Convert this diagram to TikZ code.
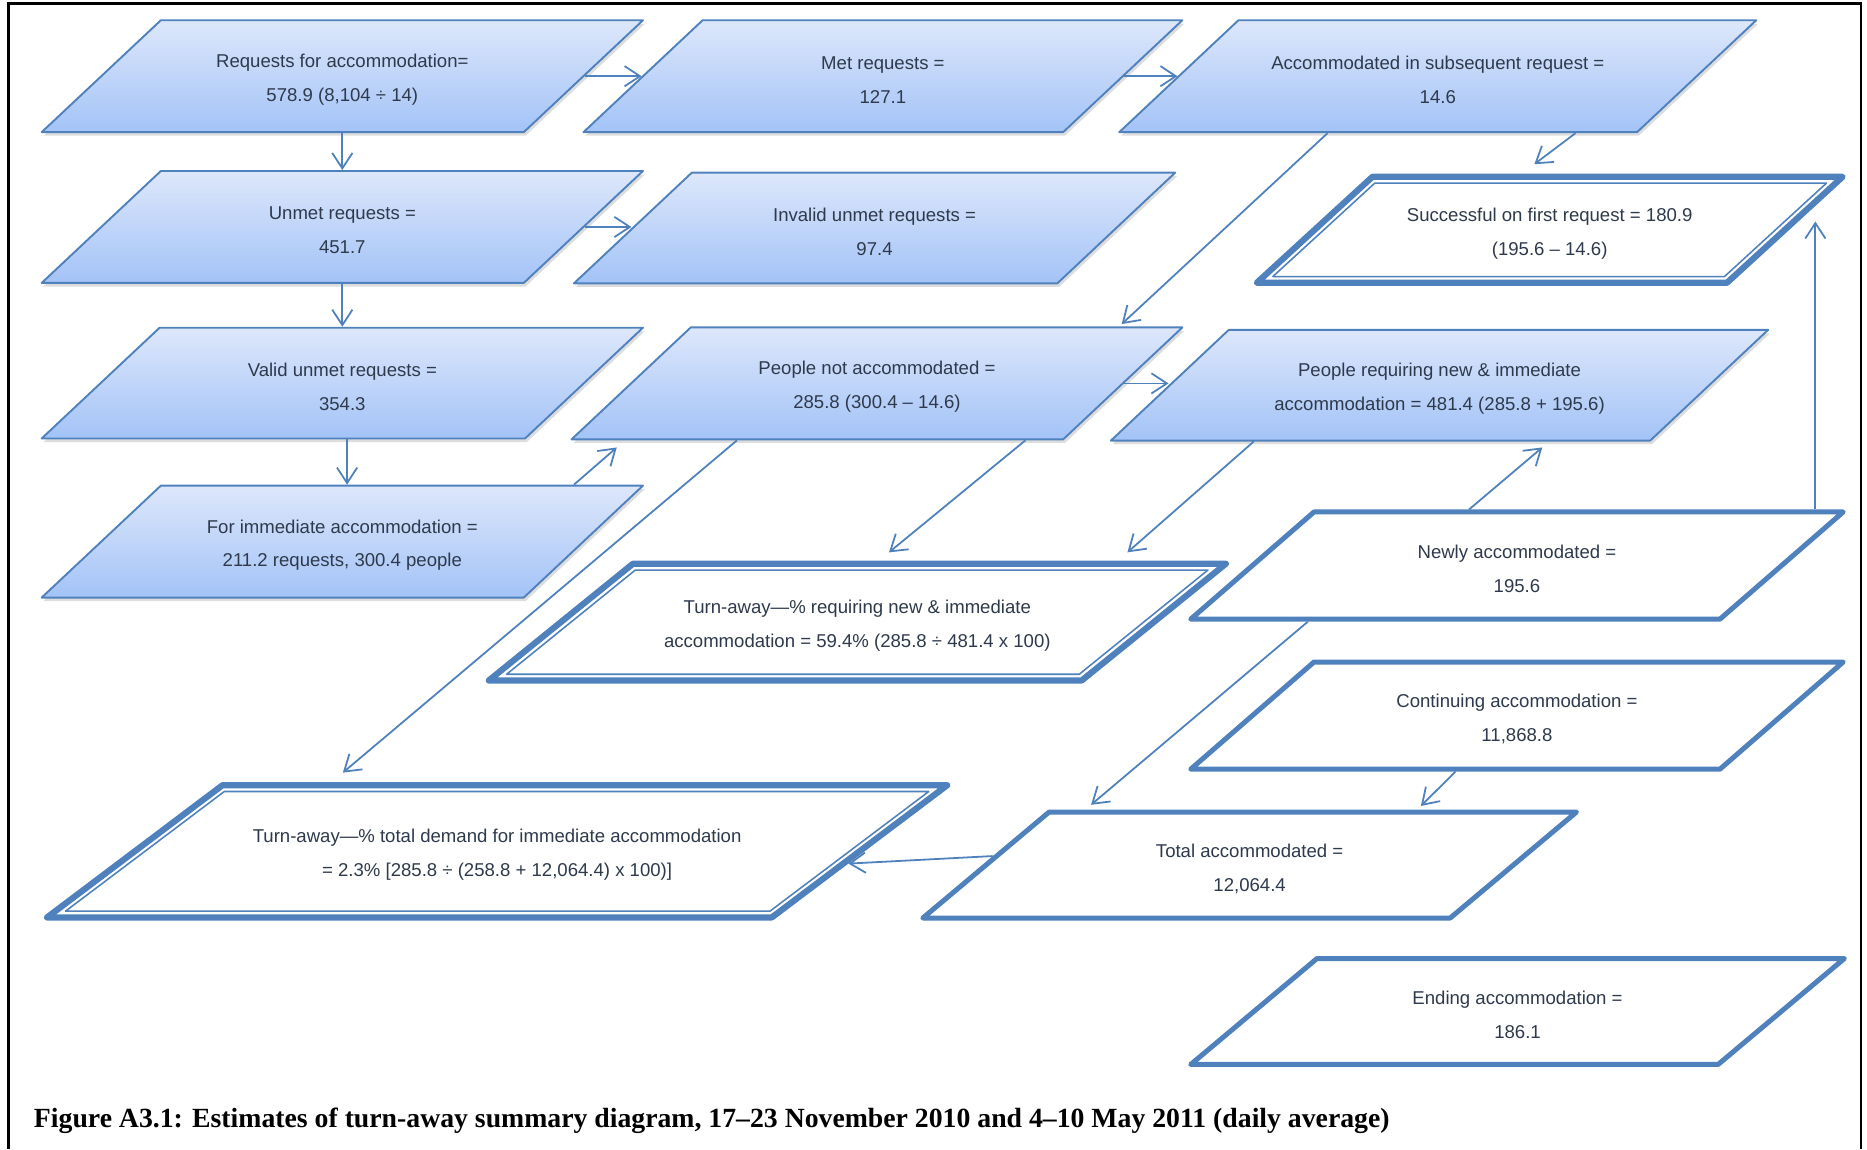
\documentclass[tikz,border=0pt]{standalone}
\usepackage{fontspec}
\setmainfont{Liberation Serif}
\setsansfont{Liberation Sans}
\usetikzlibrary{positioning}
\usetikzlibrary{shapes.geometric,shadows}
\usetikzlibrary{arrows.meta}
\definecolor{boxblue}{HTML}{4F81BD}
\definecolor{gradtop}{HTML}{DDE7FB}
\definecolor{gradbot}{HTML}{A3C3F7}
\definecolor{boxtext}{HTML}{2E3A4C}
\tikzset{
	base/.style={trapezium, trapezium stretches body=true, draw=boxblue, inner xsep=0pt, line join=round},
	lean/.style={trapezium left angle=#1, trapezium right angle=180-#1},
	lbl/.style={align=center, text=boxtext, yshift=-3pt, font=\sffamily\fontsize{15.6}{28.5}\selectfont},
	fillbox/.style={base, lean=43.2, line width=1.6pt, top color=gradtop, bottom color=gradbot, drop shadow={shadow xshift=1.5pt, shadow yshift=-3pt, opacity=0.22, fill=black!60}, minimum width=505pt, inner ysep=47pt},
	thickbox/.style={base, line width=4.2pt, fill=white},
	dblbox/.style={base, line width=5.2pt, fill=white},
	inbox/.style={base, line width=1.3pt}
}
\begin{document}
\begin{tikzpicture}[x=1pt,y=-1pt,>={Straight Barb[length=13pt,width=17pt]}]
	\useasboundingbox (0,0) rectangle (1568,965);
	\draw[line width=2pt] (7,965) -- (7,3) -- (1563,3) -- (1563,965);
	% first column
	\node[fillbox, label={[lbl]center:Requests for accommodation=\\578.9 (8,104 ÷ 14)}] (req) at (287.5,64) {};
	\node[fillbox, below=31pt of req, label={[lbl]center:Unmet requests =\\451.7}] (unmet) {};
	\node[fillbox, below=36pt of unmet, inner ysep=46.5pt, label={[lbl]center:Valid unmet requests =\\354.3}] (valid) {};
	\node[fillbox, below=38pt of valid, label={[lbl]center:For immediate accommodation =\\211.2 requests, 300.4 people}] (immed) {};
	% middle
	\node[fillbox, minimum width=503pt, label={[lbl]center:Met requests =\\127.1}] (met) at (741.5,64) {};
	\node[fillbox, inner ysep=46.5pt, label={[lbl]center:Invalid unmet requests =\\97.4}] (inval) at (734.5,191.5) {};
	\node[fillbox, minimum width=513pt, label={[lbl]center:People not accommodated =\\285.8 (300.4 – 14.6)}] (notacc) at (736.5,322) {};
	\node[dblbox, lean=39, minimum width=619pt, inner ysep=49pt, label={[lbl]center:Turn-away—\% requiring new \& immediate\\accommodation = 59.4\% (285.8 ÷ 481.4 x 100)}] (tanew) at (720,522.5) {};
	\node[inbox, lean=39, minimum width=589pt, inner ysep=43.75pt] (tanewin) at (tanew.center) {};
	\node[dblbox, lean=37, minimum width=756pt, inner ysep=55.5pt, label={[lbl]center:Turn-away—\% total demand for immediate accommodation\\= 2.3\% [285.8 ÷ (258.8 + 12,064.4) x 100)]}] (tatot) at (417.5,715) {};
	\node[inbox, lean=37, minimum width=725pt, inner ysep=50.25pt] (tatotin) at (tatot.center) {};
	% right side
	\node[fillbox, minimum width=535pt, label={[lbl]center:Accommodated in subsequent request =\\14.6}] (subs) at (1207.5,64) {};
	\node[dblbox, lean=42.5, minimum width=492pt, inner ysep=44.5pt, label={[lbl]center:Successful on first request = 180.9\\(195.6 – 14.6)}] (first) at (1301.5,193) {};
	\node[inbox, lean=42.5, minimum width=465pt, inner ysep=39.25pt] (firstin) at (first.center) {};
	\node[fillbox, minimum width=552pt, inner ysep=46.5pt, label={[lbl]center:People requiring new \& immediate\\accommodation = 481.4 (285.8 + 195.6)}] (newreq) at (1209,323.5) {};
	\node[thickbox, lean=41, minimum width=548pt, inner ysep=45pt, label={[lbl]center:Newly accommodated =\\195.6}] (newacc) at (1274,475) {};
	\node[thickbox, lean=41, minimum width=548pt, inner ysep=45pt, label={[lbl]center:Continuing accommodation =\\11,868.8}] (contacc) at (1274,601) {};
	\node[thickbox, lean=40, minimum width=549pt, inner ysep=44.5pt, label={[lbl]center:Total accommodated =\\12,064.4}] (total) at (1049.5,726.5) {};
	\node[thickbox, lean=40, minimum width=549pt, inner ysep=44.5pt, label={[lbl]center:Ending accommodation =\\186.1}] (ending) at (1274.5,849.5) {};
	\node[anchor=west, font=\bfseries\fontsize{23.3}{27}\selectfont] (cap) at (25,941) {Figure A3.1: Estimates of turn-away summary diagram, 17–23 November 2010 and 4–10 May 2011 (daily average)};
	% connectors
	\begin{scope}[draw=boxblue, line width=1.5pt]
	\draw[->] (req.east) -- (met.west);
	\draw[->] (met.east) -- (subs.west);
	\draw[->] (req.south) -- (unmet.north);
	\draw[->] (unmet.east) -- (unmet.east -| inval.west);
	\draw[->] (unmet.south) -- (valid.north);
	\draw[->] ([xshift=4pt]valid.south) -- ([xshift=4pt]immed.north);
	\draw[->] ([xshift=-60pt]immed.top right corner) -- ([xshift=40pt,yshift=-6pt]notacc.bottom left corner);
	\draw[->] ([xshift=177pt]subs.bottom left corner) -- ([xshift=-53pt,yshift=2pt]notacc.top right corner);
	\draw[->] ([xshift=-52pt]subs.bottom right corner) -- ([xshift=137pt,yshift=8pt]first.top left corner);
	\draw[->] (notacc.east) -- (notacc.east -| newreq.west);
	\draw[->] ([xshift=141pt]notacc.bottom left corner) -- ([xshift=102pt,yshift=8pt]tatot.top left corner);
	\draw[->] ([xshift=-32pt]notacc.bottom right corner) -- ([xshift=216pt,yshift=7pt]tanew.top left corner);
	\draw[->] ([xshift=122pt]newreq.bottom left corner) -- ([xshift=-90pt,yshift=7pt]tanew.top right corner);
	\draw[->] ([xshift=131pt]newacc.top left corner) -- ([xshift=-91pt,yshift=-5pt]newreq.bottom right corner);
	\coordinate (up) at ([xshift=-29pt]newacc.top right corner);
	\coordinate (upend) at ([yshift=7pt]first.east);
	\draw[->] (up) -- (up |- upend);
	\draw[->] ([xshift=104pt]newacc.bottom left corner) -- ([xshift=36pt,yshift=4pt]total.top left corner);
	\draw[->] ([xshift=228pt]contacc.bottom left corner) -- ([xshift=313pt,yshift=3pt]total.top left corner);
	\draw[->] (total.178) -- (tatot.358.5);
	\end{scope}
\end{tikzpicture}
\end{document}
